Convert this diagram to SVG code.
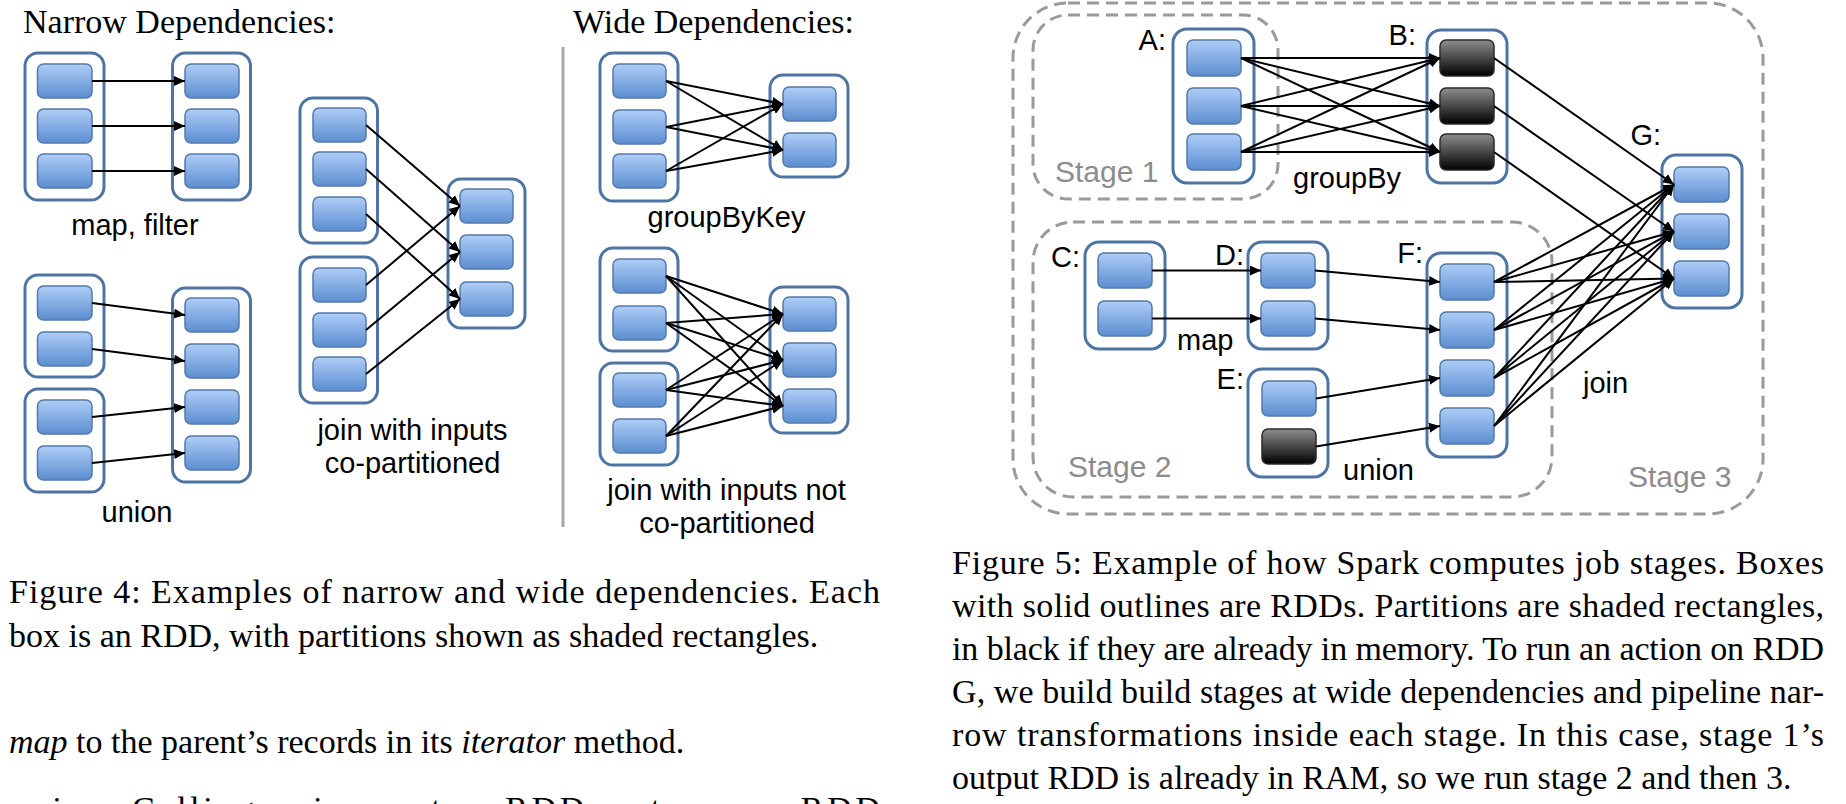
<svg xmlns="http://www.w3.org/2000/svg" width="1846" height="804" viewBox="0 0 1846 804">
<style>
.rdd{fill:#fff;stroke:#4E74A3;stroke-width:3}
.p{fill:url(#gb);stroke:#5479A8;stroke-width:1.5}
.pk{fill:url(#gk);stroke:#2a2a2a;stroke-width:1.5}
.e line{stroke:#000;stroke-width:2;marker-end:url(#ah)}
.stage{fill:none;stroke:#9a9a9a;stroke-width:3;stroke-dasharray:12 7}
.lbl{font-family:"Liberation Sans",Arial,sans-serif;font-size:29px;fill:#000}
.stl{font-family:"Liberation Sans",Arial,sans-serif;font-size:30px;fill:#8c8c8c}
.ttl{font-family:"Liberation Serif","Times New Roman",serif;font-size:34px;fill:#000}
.cap{font-family:"Liberation Serif","Times New Roman",serif;font-size:34px;fill:#000}
.it{font-style:italic}
</style>
<defs>
<linearGradient id="gb" x1="0" y1="0" x2="0" y2="1"><stop offset="0" stop-color="#AFCDF7"/><stop offset="1" stop-color="#5B8ED0"/></linearGradient>
<linearGradient id="gk" x1="0" y1="0" x2="0" y2="1"><stop offset="0" stop-color="#8E8E8E"/><stop offset="1" stop-color="#000"/></linearGradient>
<marker id="ah" markerUnits="userSpaceOnUse" markerWidth="12" markerHeight="10" refX="11" refY="5" orient="auto"><path d="M0,0 L11,5 L0,10 z" fill="#000"/></marker>
</defs>
<rect width="1846" height="804" fill="#fff"/>

<!-- Figure 4 -->
<text class="ttl" x="23" y="33">Narrow Dependencies:</text>
<text class="ttl" x="573" y="33">Wide Dependencies:</text>
<line x1="563" y1="47" x2="563" y2="527" stroke="#a6a6a6" stroke-width="3"/>

<g id="mf-src"><rect class="rdd" x="25" y="53" width="79" height="147" rx="13"/>
<rect class="p" x="37.5" y="64" width="54.5" height="34" rx="6"/><rect class="p" x="37.5" y="109" width="54.5" height="34" rx="6"/><rect class="p" x="37.5" y="154" width="54.5" height="34" rx="6"/></g>
<g id="mf-dst"><rect class="rdd" x="172.5" y="53" width="78" height="147" rx="13"/>
<rect class="p" x="185" y="64" width="54" height="34" rx="6"/><rect class="p" x="185" y="109" width="54" height="34" rx="6"/><rect class="p" x="185" y="154" width="54" height="34" rx="6"/></g>
<text class="lbl" x="135" y="235" text-anchor="middle">map, filter</text>

<g id="un-a"><rect class="rdd" x="25" y="275" width="79" height="102" rx="13"/>
<rect class="p" x="37.5" y="286" width="54.5" height="34" rx="6"/><rect class="p" x="37.5" y="332" width="54.5" height="34" rx="6"/></g>
<g id="un-b"><rect class="rdd" x="25" y="389" width="79" height="103" rx="13"/>
<rect class="p" x="37.5" y="400" width="54.5" height="34" rx="6"/><rect class="p" x="37.5" y="446" width="54.5" height="34" rx="6"/></g>
<g id="un-dst"><rect class="rdd" x="172.5" y="288" width="78" height="194" rx="13"/>
<rect class="p" x="185" y="298" width="54" height="34" rx="6"/><rect class="p" x="185" y="344" width="54" height="34" rx="6"/><rect class="p" x="185" y="390" width="54" height="34" rx="6"/><rect class="p" x="185" y="436" width="54" height="34" rx="6"/></g>
<text class="lbl" x="137" y="522" text-anchor="middle">union</text>

<g id="jc-a"><rect class="rdd" x="300" y="98" width="77.5" height="145" rx="13"/>
<rect class="p" x="313" y="108" width="53" height="34" rx="6"/><rect class="p" x="313" y="152" width="53" height="34" rx="6"/><rect class="p" x="313" y="197" width="53" height="34" rx="6"/></g>
<g id="jc-b"><rect class="rdd" x="300" y="257" width="77.5" height="146" rx="13"/>
<rect class="p" x="313" y="268" width="53" height="34" rx="6"/><rect class="p" x="313" y="313" width="53" height="34" rx="6"/><rect class="p" x="313" y="357" width="53" height="34" rx="6"/></g>
<g id="jc-dst"><rect class="rdd" x="448" y="179" width="77" height="149" rx="13"/>
<rect class="p" x="460" y="189" width="53" height="34" rx="6"/><rect class="p" x="460" y="235" width="53" height="34" rx="6"/><rect class="p" x="460" y="282" width="53" height="34" rx="6"/></g>
<text class="lbl" x="412.5" y="440" text-anchor="middle">join with inputs</text>
<text class="lbl" x="412.5" y="473" text-anchor="middle">co-partitioned</text>

<g id="gk-src"><rect class="rdd" x="600" y="53" width="78" height="148" rx="13"/>
<rect class="p" x="613" y="64" width="53" height="34" rx="6"/><rect class="p" x="613" y="110" width="53" height="34" rx="6"/><rect class="p" x="613" y="154" width="53" height="34" rx="6"/></g>
<g id="gk-dst"><rect class="rdd" x="770" y="75" width="78" height="102" rx="13"/>
<rect class="p" x="783" y="87" width="53" height="34" rx="6"/><rect class="p" x="783" y="133" width="53" height="34" rx="6"/></g>
<text class="lbl" x="726.5" y="227" text-anchor="middle">groupByKey</text>

<g id="jn-a"><rect class="rdd" x="600" y="248" width="78" height="103" rx="13"/>
<rect class="p" x="613" y="259" width="53" height="34" rx="6"/><rect class="p" x="613" y="306" width="53" height="34" rx="6"/></g>
<g id="jn-b"><rect class="rdd" x="600" y="363" width="78" height="102" rx="13"/>
<rect class="p" x="613" y="373" width="53" height="34" rx="6"/><rect class="p" x="613" y="419" width="53" height="34" rx="6"/></g>
<g id="jn-dst"><rect class="rdd" x="770" y="287" width="78" height="146" rx="13"/>
<rect class="p" x="783" y="297" width="53" height="34" rx="6"/><rect class="p" x="783" y="343" width="53" height="34" rx="6"/><rect class="p" x="783" y="389" width="53" height="34" rx="6"/></g>
<text class="lbl" x="726.5" y="500" text-anchor="middle">join with inputs not</text>
<text class="lbl" x="727" y="533" text-anchor="middle">co-partitioned</text>

<!-- Figure 5 -->
<g id="stages">
<rect class="stage" x="1013" y="3" width="750" height="511" rx="55"/>
<rect class="stage" x="1033" y="15" width="245" height="184" rx="35"/>
<rect class="stage" x="1033" y="222" width="519" height="275" rx="40"/>
<text class="stl" x="1055" y="182">Stage 1</text>
<text class="stl" x="1068" y="477">Stage 2</text>
<text class="stl" x="1628" y="487">Stage 3</text>
</g>

<g id="A"><text class="lbl" x="1166" y="50" text-anchor="end">A:</text><rect class="rdd" x="1173" y="29" width="81" height="154" rx="14"/>
<rect class="p" x="1187" y="40" width="54" height="36" rx="6"/><rect class="p" x="1187" y="88" width="54" height="36" rx="6"/><rect class="p" x="1187" y="134" width="54" height="36" rx="6"/></g>
<g id="B"><text class="lbl" x="1416" y="45" text-anchor="end">B:</text><rect class="rdd" x="1427" y="30" width="80" height="153" rx="14"/>
<rect class="pk" x="1440" y="40" width="54" height="36" rx="6"/><rect class="pk" x="1440" y="88" width="54" height="36" rx="6"/><rect class="pk" x="1440" y="134" width="54" height="36" rx="6"/></g>
<g id="G"><text class="lbl" x="1661" y="145" text-anchor="end">G:</text><rect class="rdd" x="1662" y="155" width="80" height="153" rx="14"/>
<rect class="p" x="1674" y="167" width="55" height="35" rx="6"/><rect class="p" x="1674" y="214" width="55" height="35" rx="6"/><rect class="p" x="1674" y="261" width="55" height="35" rx="6"/></g>
<g id="C"><text class="lbl" x="1080" y="267" text-anchor="end">C:</text><rect class="rdd" x="1085" y="242" width="80" height="107" rx="14"/>
<rect class="p" x="1098" y="253" width="54" height="35" rx="6"/><rect class="p" x="1098" y="301" width="54" height="35" rx="6"/></g>
<g id="D"><text class="lbl" x="1244" y="265" text-anchor="end">D:</text><rect class="rdd" x="1248" y="242" width="80" height="107" rx="14"/>
<rect class="p" x="1261" y="253" width="54" height="35" rx="6"/><rect class="p" x="1261" y="301" width="54" height="35" rx="6"/></g>
<g id="E"><text class="lbl" x="1244" y="389" text-anchor="end">E:</text><rect class="rdd" x="1248" y="369" width="80" height="108" rx="14"/>
<rect class="p" x="1262" y="381" width="54" height="35" rx="6"/><rect class="pk" x="1262" y="429" width="54" height="35" rx="6"/></g>
<g id="F"><text class="lbl" x="1423" y="263" text-anchor="end">F:</text><rect class="rdd" x="1427" y="253" width="80" height="204" rx="14"/>
<rect class="p" x="1440" y="264" width="54" height="36" rx="6"/><rect class="p" x="1440" y="312" width="54" height="36" rx="6"/><rect class="p" x="1440" y="360" width="54" height="36" rx="6"/><rect class="p" x="1440" y="408" width="54" height="36" rx="6"/></g>
<text class="lbl" x="1293" y="188">groupBy</text>
<text class="lbl" x="1177" y="350">map</text>
<text class="lbl" x="1343" y="480">union</text>
<text class="lbl" x="1583" y="393">join</text>

<g id="connectors" class="e">
<line x1="92" y1="81" x2="185" y2="81"/><line x1="92" y1="126" x2="185" y2="126"/><line x1="92" y1="171" x2="185" y2="171"/>
<line x1="92" y1="303" x2="185" y2="315"/><line x1="92" y1="349" x2="185" y2="361"/><line x1="92" y1="417" x2="185" y2="407"/><line x1="92" y1="463" x2="185" y2="453"/>
<line x1="366" y1="125" x2="460" y2="206"/><line x1="366" y1="169" x2="460" y2="252"/><line x1="366" y1="214" x2="460" y2="299"/>
<line x1="366" y1="285" x2="460" y2="206"/><line x1="366" y1="330" x2="460" y2="252"/><line x1="366" y1="374" x2="460" y2="299"/>
<line x1="666" y1="81" x2="783" y2="104"/><line x1="666" y1="81" x2="783" y2="150"/>
<line x1="666" y1="127" x2="783" y2="104"/><line x1="666" y1="127" x2="783" y2="150"/>
<line x1="666" y1="171" x2="783" y2="104"/><line x1="666" y1="171" x2="783" y2="150"/>
<line x1="666" y1="276" x2="783" y2="314"/><line x1="666" y1="276" x2="783" y2="360"/><line x1="666" y1="276" x2="783" y2="406"/>
<line x1="666" y1="323" x2="783" y2="314"/><line x1="666" y1="323" x2="783" y2="360"/><line x1="666" y1="323" x2="783" y2="406"/>
<line x1="666" y1="390" x2="783" y2="314"/><line x1="666" y1="390" x2="783" y2="360"/><line x1="666" y1="390" x2="783" y2="406"/>
<line x1="666" y1="436" x2="783" y2="314"/><line x1="666" y1="436" x2="783" y2="360"/><line x1="666" y1="436" x2="783" y2="406"/>
<line x1="1241" y1="58" x2="1440" y2="58"/><line x1="1241" y1="58" x2="1440" y2="106"/><line x1="1241" y1="58" x2="1440" y2="152"/>
<line x1="1241" y1="106" x2="1440" y2="58"/><line x1="1241" y1="106" x2="1440" y2="106"/><line x1="1241" y1="106" x2="1440" y2="152"/>
<line x1="1241" y1="152" x2="1440" y2="58"/><line x1="1241" y1="152" x2="1440" y2="106"/><line x1="1241" y1="152" x2="1440" y2="152"/>
<line x1="1494" y1="58" x2="1674" y2="184.5"/><line x1="1494" y1="106" x2="1674" y2="231.5"/><line x1="1494" y1="152" x2="1674" y2="278.5"/>
<line x1="1152" y1="270.5" x2="1261" y2="270.5"/><line x1="1152" y1="318.5" x2="1261" y2="318.5"/>
<line x1="1315" y1="270.5" x2="1440" y2="282"/><line x1="1315" y1="318.5" x2="1440" y2="330"/>
<line x1="1316" y1="398.5" x2="1440" y2="378"/><line x1="1316" y1="446.5" x2="1440" y2="426"/>
<line x1="1494" y1="282" x2="1674" y2="184.5"/><line x1="1494" y1="282" x2="1674" y2="231.5"/><line x1="1494" y1="282" x2="1674" y2="278.5"/>
<line x1="1494" y1="330" x2="1674" y2="184.5"/><line x1="1494" y1="330" x2="1674" y2="231.5"/><line x1="1494" y1="330" x2="1674" y2="278.5"/>
<line x1="1494" y1="378" x2="1674" y2="184.5"/><line x1="1494" y1="378" x2="1674" y2="231.5"/><line x1="1494" y1="378" x2="1674" y2="278.5"/>
<line x1="1494" y1="426" x2="1674" y2="184.5"/><line x1="1494" y1="426" x2="1674" y2="231.5"/><line x1="1494" y1="426" x2="1674" y2="278.5"/>
</g>

<!-- captions -->
<g id="captions">
<text class="cap" x="9" y="603" textLength="871" lengthAdjust="spacing">Figure 4: Examples of narrow and wide dependencies. Each</text>
<text class="cap" x="9" y="647">box is an RDD, with partitions shown as shaded rectangles.</text>
<text class="cap" x="9" y="753"><tspan class="it">map</tspan> to the parent’s records in its <tspan class="it">iterator</tspan> method.</text>
<text class="cap" x="9" y="820" textLength="871" lengthAdjust="spacing"><tspan class="it">union:</tspan> Calling <tspan class="it">union</tspan> on two RDDs returns an RDD</text>
<text class="cap" x="952" y="574" textLength="872" lengthAdjust="spacing">Figure 5: Example of how Spark computes job stages. Boxes</text>
<text class="cap" x="952" y="617" textLength="872" lengthAdjust="spacing">with solid outlines are RDDs. Partitions are shaded rectangles,</text>
<text class="cap" x="952" y="660" textLength="872" lengthAdjust="spacing">in black if they are already in memory. To run an action on RDD</text>
<text class="cap" x="952" y="703" textLength="872" lengthAdjust="spacing">G, we build build stages at wide dependencies and pipeline nar-</text>
<text class="cap" x="952" y="746" textLength="872" lengthAdjust="spacing">row transformations inside each stage. In this case, stage 1’s</text>
<text class="cap" x="952" y="789">output RDD is already in RAM, so we run stage 2 and then 3.</text>
</g>
</svg>
